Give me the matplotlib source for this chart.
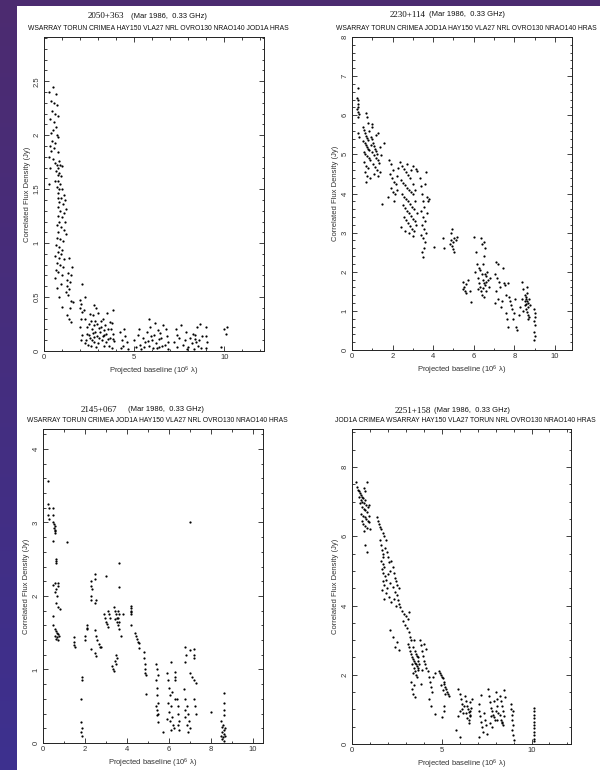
import numpy as np
import matplotlib
matplotlib.use('Agg')
import matplotlib.pyplot as plt
from matplotlib.patches import Rectangle
from matplotlib.ticker import MultipleLocator, FuncFormatter

plt.rcParams['font.family'] = ['Liberation Sans', 'DejaVu Sans']
plt.rcParams['mathtext.default'] = 'regular'

# ---- data: (baseline [1e6 lambda], flux [Jy]) ----
pts_2050 = [
    (0.50,2.45),(0.30,2.40),(0.65,2.38),(0.40,2.32),(0.55,2.30),(0.70,2.28),(0.45,2.22),(0.60,2.20),
    (0.75,2.18),(0.35,2.15),(0.55,2.12),(0.65,2.08),(0.50,2.05),(0.40,2.02),(0.70,2.00),(0.80,1.98),
    (0.45,1.95),(0.60,1.93),(0.35,1.90),(0.55,1.88),(0.40,1.85),(0.75,1.84),(0.30,1.80),(0.50,1.78),
    (0.85,1.76),(0.60,1.74),(0.70,1.72),(0.90,1.72),(0.35,1.70),(0.80,1.70),(1.00,1.71),(0.65,1.67),
    (0.85,1.65),(0.75,1.63),(0.95,1.62),(0.60,1.58),(0.80,1.58),(0.30,1.55),(0.90,1.55),(0.70,1.52),
    (0.85,1.50),(1.00,1.50),(0.80,1.46),(1.10,1.45),(0.75,1.42),(0.95,1.42),(1.15,1.40),(0.85,1.38),
    (1.05,1.36),(0.80,1.33),(1.20,1.32),(0.90,1.30),(1.10,1.28),(0.75,1.25),(1.00,1.24),(0.85,1.20),
    (1.15,1.20),(0.70,1.17),(0.95,1.15),(1.10,1.12),(0.80,1.10),(1.20,1.08),(0.70,1.05),(0.90,1.04),
    (1.05,1.02),(0.65,0.98),(0.85,0.96),(1.00,0.94),(0.75,0.92),(0.95,0.90),(0.60,0.88),(0.85,0.86),
    (1.10,0.85),(0.70,0.82),(0.90,0.80),(1.05,0.78),(0.65,0.75),(0.80,0.73),(1.00,0.70),(0.60,0.68),
    (1.40,0.86),(1.55,0.78),(1.35,0.72),(1.50,0.70),(1.25,0.66),(1.45,0.64),(1.30,0.60),(1.40,0.57),
    (0.70,0.58),(0.95,0.62),(1.20,0.55),(1.35,0.52),(0.85,0.50),(1.50,0.46),(1.60,0.45),(1.45,0.40),
    (0.98,0.41),(1.40,0.30),(1.50,0.27),(1.25,0.33),(2.10,0.62),(2.00,0.47),(2.05,0.44),(2.00,0.40),
    (2.10,0.36),(2.05,0.30),(2.00,0.22),(2.10,0.15),(2.05,0.10),(2.25,0.50),(2.20,0.38),
    (2.30,0.30),(2.40,0.22),(2.50,0.15),(2.60,0.28),(2.70,0.33),(2.80,0.43),(2.90,0.40),(3.00,0.35),
    (2.35,0.10),(2.45,0.06),(2.55,0.12),(2.65,0.20),(2.75,0.08),(2.85,0.18),(2.95,0.25),(3.05,0.12),
    (3.15,0.22),(3.25,0.30),(3.35,0.15),(3.45,0.08),(3.55,0.20),(3.65,0.12),(3.75,0.26),(3.85,0.38),
    (3.50,0.35),(2.40,0.16),(2.60,0.05),(2.80,0.13),(3.00,0.07),(3.20,0.10),(3.40,0.24),(3.60,0.05),
    (3.80,0.16),(3.90,0.09),(2.50,0.25),(2.70,0.17),(2.90,0.04),(3.10,0.18),(3.30,0.05),(3.70,0.20),
    (2.30,0.07),(2.55,0.34),(2.75,0.24),(2.95,0.14),(3.15,0.28),(3.35,0.19),(3.55,0.11),(3.75,0.03),
    (2.65,0.10),(2.85,0.28),(3.05,0.21),(3.25,0.14),(3.45,0.16),(3.65,0.27),(3.85,0.11),
    (4.20,0.18),(4.30,0.10),(4.40,0.05),(4.50,0.14),(4.60,0.08),(4.25,0.03),(4.45,0.20),(4.65,0.02),
    (5.00,0.10),(5.10,0.04),(5.20,0.15),(5.30,0.06),(5.40,0.02),(5.50,0.12),(5.60,0.08),(5.70,0.18),
    (5.80,0.30),(5.85,0.05),(5.90,0.22),(6.00,0.10),(6.05,0.03),(6.10,0.15),(6.20,0.07),(6.30,0.19),
    (6.40,0.04),(6.50,0.12),(6.60,0.24),(6.70,0.06),(6.80,0.14),(6.90,0.02),(5.25,0.20),(5.55,0.04),
    (5.75,0.09),(6.15,0.26),(6.35,0.11),(6.55,0.05),(6.75,0.20),(5.95,0.14),(6.25,0.03),(6.45,0.17),
    (6.85,0.08),(7.20,0.08),(7.30,0.20),(7.40,0.04),(7.50,0.12),(7.60,0.24),(7.70,0.06),(7.35,0.15),
    (7.80,0.10),(7.90,0.18),(8.00,0.04),(8.10,0.12),(8.20,0.07),(8.30,0.02),(8.40,0.15),(8.50,0.22),
    (8.55,0.05),(8.60,0.10),(8.70,0.03),(8.75,0.14),(7.95,0.02),(8.25,0.16),(8.45,0.08),(8.65,0.25),
    (8.35,0.11),(9.00,0.22),(9.00,0.14),(9.05,0.08),(9.00,0.03),(9.80,0.04),(10.00,0.20),(10.10,0.16),
    (10.15,0.22),
]

pts_2230 = [
    (0.30,6.70),(0.25,6.45),(0.30,6.38),(0.28,6.30),(0.32,6.22),(0.25,6.15),(0.30,6.08),(0.35,6.02),
    (0.28,5.95),(0.70,6.05),(0.72,5.95),(0.30,5.55),(0.35,5.45),(0.80,5.81),(0.97,5.77),
    (0.55,5.70),(0.60,5.62),(0.65,5.55),(0.70,5.48),(0.75,5.42),(0.80,5.38),(0.55,5.35),(0.62,5.30),
    (0.68,5.25),(0.72,5.20),(0.78,5.15),(0.85,5.10),(0.58,5.05),(0.66,5.00),(0.74,4.95),(0.82,4.90),
    (0.90,4.85),(0.60,4.80),(0.70,4.70),(0.80,4.65),(0.65,4.55),(0.75,4.45),(0.88,4.40),(0.70,4.30),
    (0.95,5.45),(1.00,5.40),(1.05,5.30),(1.10,5.22),(1.15,5.15),(1.20,5.08),(1.25,5.00),(1.00,5.05),
    (1.08,4.98),(1.18,4.92),(1.28,4.85),(1.35,4.78),(1.05,4.75),(1.15,4.68),(1.25,4.60),(1.40,4.55),
    (1.10,4.50),(1.30,4.45),(1.45,4.98),(1.38,5.20),(1.30,5.55),(1.60,5.30),(1.50,3.72),(0.85,5.60),
    (0.92,5.25),(0.98,5.70),(1.20,5.50),
    (1.80,4.85),(1.90,4.75),(2.00,4.60),(1.85,4.50),(1.95,4.40),(2.05,4.30),(2.15,4.25),(1.90,4.15),
    (2.00,4.05),(2.10,3.98),(2.20,4.45),(2.25,4.65),(1.75,3.90),(2.05,3.80),(2.20,4.10),
    (2.35,4.80),(2.45,4.70),(2.55,4.62),(2.65,4.55),(2.75,4.48),(2.85,4.40),(2.40,4.35),(2.50,4.28),
    (2.60,4.22),(2.70,4.15),(2.80,4.10),(2.90,4.05),(3.00,4.00),(2.45,4.00),(2.55,3.92),(2.65,3.85),
    (2.75,3.80),(2.85,3.72),(2.95,3.65),(3.05,3.60),(2.50,3.70),(2.60,3.62),(2.70,3.55),(2.80,3.50),
    (2.90,3.42),(3.00,3.35),(3.10,3.30),(2.55,3.40),(2.65,3.32),(2.75,3.25),(2.85,3.18),(2.95,3.10),
    (3.05,3.05),(2.40,3.15),(2.60,3.05),(2.80,2.98),(3.00,2.92),(3.15,3.20),(3.20,3.50),(3.10,3.80),
    (3.00,4.25),(2.90,4.60),(2.70,4.75),(3.15,4.62),(3.10,4.10),(3.00,4.70),(3.19,4.58),
    (3.35,4.40),(3.40,4.20),(3.45,4.00),(3.50,3.80),(3.55,3.65),(3.40,3.55),(3.50,3.40),(3.60,3.30),
    (3.45,3.20),(3.55,3.10),(3.65,3.00),(3.40,2.95),(3.50,2.85),(3.60,2.75),(3.55,2.60),(3.45,2.50),
    (3.50,2.38),(3.70,3.90),(3.75,3.80),(3.80,3.85),(3.65,4.55),(3.60,4.25),(3.70,3.50),
    (4.05,2.62),(4.50,2.85),(4.55,2.60),
    (4.85,2.70),(4.90,2.80),(4.95,2.65),(5.00,2.75),(5.05,2.85),(5.10,2.80),(5.00,2.58),(5.05,2.50),
    (4.90,3.00),(4.95,3.08),(5.15,2.90),
    (5.45,1.75),(5.50,1.62),(5.55,1.50),(5.60,1.45),(5.48,1.55),(5.62,1.68),(5.70,1.80),(5.80,1.52),
    (5.85,1.22),
    (6.00,2.90),(6.10,2.50),(6.15,2.20),(6.05,2.00),(6.20,1.85),(6.25,1.70),(6.30,1.60),(6.35,1.50),
    (6.40,1.40),(6.30,2.05),(6.40,1.95),(6.45,1.80),(6.50,1.70),(6.55,1.65),(6.60,1.75),(6.45,2.20),
    (6.50,2.40),(6.55,2.60),(6.50,2.75),(6.60,1.90),(6.65,2.00),(6.70,1.80),(6.75,1.60),(6.80,1.85),
    (6.40,2.70),(6.35,2.85),(6.20,1.55),(6.25,2.10),(6.55,1.95),(6.45,1.58),(6.62,1.52),(6.48,1.35),
    (7.10,2.25),(7.20,2.20),(7.05,1.95),(7.15,1.85),(7.25,1.75),(7.30,1.60),(7.10,1.50),(7.20,1.30),
    (7.05,1.20),(7.35,1.10),(7.40,1.25),(7.50,1.70),(7.55,1.65),(7.45,2.10),
    (7.60,0.95),(7.65,0.80),(7.70,0.60),(7.75,1.35),(7.80,1.25),(7.85,1.15),(7.70,1.70),(7.90,1.05),
    (8.00,0.95),(7.95,0.80),(8.05,1.30),(8.10,0.60),(8.15,0.50),(7.60,1.40),
    (8.40,1.75),(8.45,1.55),(8.50,1.40),(8.55,1.30),(8.60,1.25),(8.65,1.20),(8.50,1.15),(8.55,1.05),
    (8.60,0.98),(8.65,0.90),(8.70,0.85),(8.45,1.00),(8.55,1.35),(8.60,1.45),(8.65,1.10),(8.70,1.30),
    (8.75,1.15),(8.50,1.25),(8.62,1.60),(8.58,1.18),(8.68,0.80),(8.30,1.10),(8.25,0.90),(8.40,1.30),
    (8.95,1.05),(9.00,0.95),(8.95,0.75),(9.00,0.65),(8.98,0.45),(9.00,0.35),(8.97,0.25),(9.02,0.85),
]

pts_2145 = [
    (0.25,3.56),(0.25,3.25),(0.30,3.20),(0.25,3.10),(0.30,3.05),(0.50,3.20),(0.50,3.10),(0.50,3.00),
    (0.52,2.98),(0.55,2.95),(0.53,2.92),(0.55,2.90),(0.57,2.88),(0.55,2.86),(0.50,2.75),(1.13,2.74),
    (0.60,2.50),(0.62,2.47),(0.60,2.45),(0.55,2.18),(0.70,2.17),(2.28,2.13),(2.50,2.23),(3.02,2.27),
    (7.03,3.00),
    (0.50,2.15),(0.60,2.10),(0.70,2.13),(0.55,2.05),(0.65,2.00),(0.60,1.90),(0.70,1.85),(0.80,1.82),
    (0.50,1.73),(0.50,1.60),(0.55,1.55),(0.60,1.52),(0.65,1.50),(0.70,1.48),(0.55,1.46),(0.65,1.44),
    (0.75,1.45),(0.60,1.42),(0.70,1.40),
    (1.50,1.44),(1.50,1.38),(1.48,1.33),(1.52,1.30),
    (1.85,0.90),(1.88,0.85),(1.82,0.60),(1.80,0.29),(1.85,0.20),(1.83,0.15),(1.86,0.10),
    (2.00,1.46),(2.02,1.40),(2.10,1.60),(2.12,1.57),(2.08,1.55),
    (2.30,2.20),(2.32,2.10),(2.28,2.00),(2.30,1.95),(2.50,2.30),(2.52,1.95),(2.48,1.90),
    (2.30,1.28),(2.50,1.22),(2.52,1.18),
    (2.50,1.53),(2.55,1.45),(2.60,1.40),(2.65,1.35),(2.70,1.30),(2.75,1.31),
    (2.90,1.75),(2.95,1.70),(3.00,1.65),(3.05,1.62),(3.10,1.58),(3.10,1.80),(3.15,1.75),(3.20,1.70),
    (3.30,1.05),(3.35,1.00),(3.40,0.98),(3.45,1.12),(3.50,1.20),(3.52,1.15),(3.48,1.07),
    (3.40,1.85),(3.45,1.80),(3.50,1.75),(3.55,1.70),(3.45,1.68),(3.55,1.65),(3.60,1.80),(3.62,1.75),
    (3.60,1.70),(3.63,1.65),(3.60,1.60),(3.62,1.55),(3.65,2.45),(3.63,2.12),(3.70,1.45),(3.80,1.75),
    (4.20,1.86),(4.21,1.83),(4.20,1.80),(4.22,1.78),(4.20,1.75),(4.20,1.61),
    (4.40,1.50),(4.45,1.46),(4.50,1.42),(4.55,1.38),(4.60,1.36),(4.60,1.29),
    (4.80,1.24),(4.82,1.15),(4.85,1.08),(4.88,1.00),(4.90,0.92),(4.85,0.95),(4.90,0.66),
    (5.40,1.07),(5.45,1.00),(5.50,0.92),(5.40,0.85),(5.42,0.75),(5.45,0.65),(5.48,0.55),(5.40,0.50),
    (5.45,0.45),(5.50,0.40),(5.42,0.38),(5.50,0.29),(5.75,0.15),
    (5.90,0.95),(5.95,0.85),(6.00,0.75),(6.05,0.65),(5.95,0.55),(6.10,0.50),(6.00,0.42),(6.15,0.35),
    (6.05,0.30),(6.20,0.25),(6.25,0.20),(6.10,0.17),(6.30,0.60),(6.15,0.70),(5.92,0.32),(6.10,1.10),
    (6.30,0.96),(6.32,0.90),(6.28,0.85),
    (6.40,0.60),(6.45,0.50),(6.42,0.40),(6.50,0.30),(6.45,0.25),(6.48,0.18),
    (6.80,1.30),(6.82,1.20),(6.80,1.10),(7.00,1.26),
    (6.75,0.73),(6.80,0.60),(6.85,0.50),(6.90,0.40),(6.80,0.35),(6.95,0.30),(6.85,0.25),(7.00,0.20),
    (6.90,0.15),(6.78,0.45),
    (7.00,0.95),(7.10,0.90),(7.20,0.86),(7.30,0.82),(7.20,1.28),(7.22,1.20),(7.20,1.15),(7.20,0.60),
    (7.25,0.50),(7.30,0.40),(8.00,0.42),
    (8.50,0.30),(8.52,0.22),(8.55,0.15),(8.50,0.10),(8.55,0.05),(8.60,0.25),(8.62,0.18),(8.65,0.12),
    (8.60,0.08),(8.65,0.03),(8.70,0.20),(8.68,0.10),(8.65,0.68),(8.65,0.55),(8.66,0.45),(8.64,0.38),
]

pts_2251 = [
    (0.22,7.57),(0.30,7.43),(0.35,7.35),(0.40,7.30),(0.45,7.25),(0.50,7.20),(0.55,7.15),(0.60,7.10),
    (0.38,7.15),(0.48,7.05),(0.58,7.00),(0.68,6.95),(0.75,7.05),(0.80,6.90),(0.45,6.95),(0.55,6.85),
    (0.65,6.80),(0.72,6.75),(0.85,6.70),(0.90,6.85),(0.50,6.65),(0.62,6.60),(0.70,6.55),(0.78,6.50),
    (0.88,6.45),(0.95,6.40),(0.60,6.35),(0.75,6.30),(0.85,6.25),(1.00,6.20),(0.83,7.57),(0.72,7.30),
    (0.65,7.40),(0.92,6.60),(0.95,6.90),(0.72,5.75),(0.83,5.56),(0.55,6.45),(0.68,6.15),
    (1.40,6.57),(1.45,6.45),(1.50,6.35),(1.55,6.27),(1.60,6.20),(1.70,6.10),(1.80,6.00),(1.90,5.90),
    (1.55,5.90),(1.60,5.75),(1.65,5.60),(1.70,5.50),(1.75,5.40),(1.60,5.30),(1.70,5.20),(1.80,5.10),
    (1.65,5.05),(1.75,4.95),(1.85,4.85),(1.90,4.75),(1.70,4.70),(1.80,4.60),(1.95,4.50),(2.00,5.40),
    (2.05,5.25),(2.10,5.00),(1.85,5.65),(1.95,5.55),(2.00,4.90),(2.10,4.65),(1.68,4.45),(1.90,4.35),
    (2.05,4.25),(2.15,4.10),(1.80,4.20),(2.10,3.30),
    (2.20,5.30),(2.30,5.10),(2.35,4.95),(2.40,4.80),(2.45,4.70),(2.50,4.60),(2.30,4.55),(2.40,4.40),
    (2.50,4.30),(2.55,4.15),(2.60,4.05),(2.45,4.00),(2.35,4.20),(2.60,4.50),(2.50,2.95),(2.40,2.80),
    (2.60,2.72),(2.30,3.10),
    (2.70,3.95),(2.80,3.85),(2.90,3.75),(3.00,3.70),(3.10,3.60),(2.85,3.55),(2.95,3.45),(3.05,3.35),
    (3.15,3.25),(3.20,3.80),(3.25,3.10),(3.30,3.00),(3.10,2.90),(3.20,2.80),
    (3.25,2.70),(3.30,2.60),(3.35,2.50),(3.40,2.45),(3.45,2.40),(3.50,2.35),(3.55,2.30),(3.60,2.25),
    (3.65,2.20),(3.70,2.15),(3.40,2.80),(3.50,2.70),(3.55,2.60),(3.60,2.55),(3.45,2.20),(3.50,2.10),
    (3.55,2.00),(3.60,1.95),(3.35,2.30),(3.40,2.05),(3.65,2.50),(3.70,2.40),(3.75,2.30),(3.45,3.00),
    (3.30,1.80),(3.35,1.60),(3.40,1.45),(3.50,1.35),(3.45,1.70),
    (3.78,3.00),(3.85,2.85),(3.90,2.70),(3.95,2.55),(4.00,2.40),(4.05,2.30),(4.10,2.20),(3.90,2.15),
    (3.85,1.73),(4.00,2.90),(4.10,2.75),
    (4.25,2.10),(4.30,1.95),(4.35,1.80),(4.40,1.65),(4.45,1.50),(4.30,1.30),(4.40,1.10),(4.50,1.95),
    (4.60,2.05),(4.60,0.88),
    (4.85,2.10),(4.90,2.05),(4.95,2.00),(5.00,1.95),(5.05,1.90),(5.10,1.80),(5.15,1.72),(5.20,1.65),
    (5.25,1.58),(5.30,1.50),(5.35,1.45),(5.40,1.40),(4.95,1.70),(5.05,1.55),(5.20,1.45),(5.00,0.78),
    (5.10,1.10),(5.15,0.95),
    (5.90,1.60),(6.00,1.45),(6.05,1.30),(6.10,1.15),(6.15,1.00),(6.20,0.90),(6.00,0.95),(5.90,0.80),
    (6.25,1.10),(5.80,0.40),(6.00,0.20),(6.30,1.40),(6.35,1.25),(6.40,1.10),(6.45,1.00),(6.50,0.92),
    (6.55,0.85),(6.60,0.80),(6.40,0.75),(6.50,0.70),(6.60,0.95),(6.65,1.05),(6.70,1.30),(6.50,0.60),
    (6.35,0.90),(6.55,1.20),
    (7.05,1.15),(7.10,0.95),(7.15,0.80),(7.20,0.65),(7.25,0.50),(7.30,0.35),(7.20,1.43),(7.35,0.90),
    (7.40,0.70),(7.45,0.55),(7.50,0.30),(7.10,0.20),
    (7.60,1.60),(7.65,1.40),(7.70,1.20),(7.75,1.05),(7.80,0.95),(7.85,0.85),(7.90,0.78),(7.95,0.70),
    (8.00,1.50),(8.05,1.30),(8.10,1.10),(8.15,0.90),(7.70,0.60),(7.80,0.50),(7.90,1.25),(8.00,0.95),
    (7.75,0.80),(8.10,0.70),
    (8.25,1.40),(8.30,1.25),(8.35,1.10),(8.40,0.95),(8.45,0.80),(8.30,0.70),(8.35,0.60),(8.40,0.55),
    (8.25,0.85),(8.45,1.55),(8.50,1.35),(8.35,0.65),
    (8.85,1.15),(8.88,1.00),(8.90,0.85),(8.92,0.70),(8.95,0.55),(8.90,0.40),(8.95,0.25),(9.00,0.12),
    (8.95,0.95),
    (10.15,1.05),(10.15,0.95),(10.15,0.85),(10.15,0.75),(10.15,0.65),(10.15,0.55),(10.15,0.45),
    (10.15,0.35),(10.15,0.25),(10.15,0.15),(10.15,0.08),
]

sources = ['2050+363', '2230+114', '2145+067', '2251+158']
stations = [
    'WSARRAY TORUN CRIMEA HAY150 VLA27 NRL OVRO130 NRAO140 JOD1A HRAS',
    'WSARRAY TORUN CRIMEA JOD1A HAY150 VLA27 NRL OVRO130 NRAO140 HRAS',
    'WSARRAY TORUN CRIMEA JOD1A HAY150 VLA27 NRL OVRO130 NRAO140 HRAS',
    'JOD1A CRIMEA WSARRAY HAY150 VLA27 TORUN NRL OVRO130 NRAO140 HRAS',
]
epoch = '(Mar 1986,  0.33 GHz)'

W, H = 600., 770.


def fx(px):
    return px / W


def fy(py):
    return 1. - py / H


fig = plt.figure(figsize=(6, 7.7), dpi=100)

# slide background + white scan
bg = fig.add_axes([0, 0, 1, 1])
top = np.array([0.30, 0.17, 0.44])
bot = np.array([0.24, 0.19, 0.56])
t = np.linspace(0, 1, 200)[:, None]
grad = (1 - t) * top + t * bot
bg.imshow(grad[:, None, :].repeat(4, axis=1), aspect='auto', extent=[0, 1, 0, 1])
bg.add_patch(Rectangle((17 / W, 0), 1 - 17 / W, 1 - 5.5 / H, transform=bg.transAxes,
                       facecolor='white', edgecolor='none'))
bg.set_xlim(0, 1)
bg.set_ylim(0, 1)
bg.axis('off')

# panel geometry in pixels: left, right, top, bottom
boxes = [(44, 264, 37, 351), (352, 572, 37, 350), (43, 263, 429, 743), (352, 571, 429, 744)]
xlims = [12.2, 10.84, 10.5, 12.2]
ylims = [2.91, 8.0, 4.27, 9.1]
xmaj = [5, 2, 2, 5]
xmin = [1, 1, 1, 1]
ymaj = [0.5, 1, 1, 2]
ymin = [0.1, 0.2, 0.2, 0.5]
all_pts = [pts_2050, pts_2230, pts_2145, pts_2251]
# title pieces: (name right edge, epoch left edge, y) in px
titles = [(124, 131, 16), (426, 429, 15), (117, 128, 410), (431, 434, 411)]

fmt = FuncFormatter(lambda v, p: '%g' % v)

for i in range(4):
    l, r, tp, b = boxes[i]
    ax = fig.add_axes([fx(l), fy(b), (r - l) / W, (b - tp) / H])
    ax.set_facecolor('white')
    xs, ys = zip(*all_pts[i])
    ax.plot(xs, ys, 'o', color='black', markersize=1.6, markeredgewidth=0)
    ax.set_xlim(0, xlims[i])
    ax.set_ylim(0, ylims[i])
    ax.xaxis.set_major_locator(MultipleLocator(xmaj[i]))
    ax.xaxis.set_minor_locator(MultipleLocator(xmin[i]))
    ax.yaxis.set_major_locator(MultipleLocator(ymaj[i]))
    ax.yaxis.set_minor_locator(MultipleLocator(ymin[i]))
    ax.xaxis.set_major_formatter(fmt)
    ax.yaxis.set_major_formatter(fmt)
    ax.tick_params(which='both', direction='in', top=True, right=True, width=0.6,
                   color='#222222', labelsize=5.5, pad=2.5, labelcolor='#333333')
    ax.tick_params(which='major', length=3.5)
    ax.tick_params(which='minor', length=1.8)
    ax.tick_params(axis='y', labelrotation=90)
    for lab in ax.get_yticklabels():
        lab.set_va('center')
    for s in ax.spines.values():
        s.set_linewidth(0.7)
        s.set_color('#222222')

    cx = (l + r) / 2.
    fig.text(fx(l - 16.5), fy((tp + b) / 2.), 'Correlated Flux Density (Jy)', rotation=90,
             ha='center', va='center', fontsize=5.5, color='#333333')
    fig.text(fx(cx), fy(b + 20), 'Projected baseline (10$^6$ λ)', ha='center', va='center',
             fontsize=5.5, color='#333333')
    fig.text(fx(cx + 4), fy(tp - 8), stations[i], ha='center', va='center',
             fontsize=4.85, color='#111111')
    nx, ex, ty = titles[i]
    fig.text(fx(nx), fy(ty), sources[i], ha='right', va='center', fontsize=6.5,
             family=['Liberation Serif', 'DejaVu Serif'], color='#111111')
    fig.text(fx(ex), fy(ty), epoch, ha='left', va='center', fontsize=5.5, color='#111111')

fig.savefig('out.png', dpi=100)
